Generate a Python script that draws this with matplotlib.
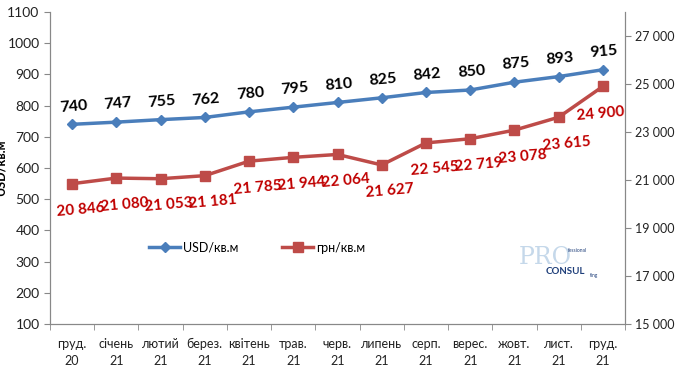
import matplotlib
matplotlib.use("Agg")
import matplotlib.pyplot as plt
import numpy as np

months = ["груд.\n20", "січень\n21", "лютий\n21", "берез.\n21", "квітень\n21", "трав.\n21",
          "черв.\n21", "липень\n21", "серп.\n21", "верес.\n21", "жовт.\n21", "лист.\n21", "груд.\n21"]
usd = [740, 747, 755, 762, 780, 795, 810, 825, 842, 850, 875, 893, 915]
uah = [20846, 21080, 21053, 21181, 21785, 21944, 22064, 21627, 22545, 22719, 23078, 23615, 24900]

plt.rcParams['font.family'] = ['Lato', 'DejaVu Sans']

fig = plt.figure(figsize=(6.86, 3.86), dpi=100)
ax = fig.add_axes([50/686, 1-324/386, 575/686, 312/386])
ax2 = ax.twinx()

x = np.arange(len(months))
blue = "#4A7EBB"
red = "#BE4B48"
l1, = ax.plot(x, usd, color=blue, lw=2.5, marker="D", ms=5, label="USD/кв.м")
l2, = ax2.plot(x, uah, color=red, lw=2.5, marker="s", ms=7.5, label="грн/кв.м")

ax.set_xlim(-0.5, len(months) - 0.5)
ax.set_ylim(100, 1100)
ax.set_yticks(np.arange(100, 1101, 100))
ax2.set_ylim(15000, 28000)
ax2.set_yticks(np.arange(15000, 27001, 2000))
ax2.set_yticklabels([f"{v:,}".replace(",", " ") for v in range(15000, 27001, 2000)])

ax.set_xticks(x)
ax.set_xticklabels(months, fontsize=9, color="#222222", linespacing=1.5)
ax.set_xticks(np.arange(-0.5, len(months), 1), minor=True)
ax.tick_params(axis="x", which="major", length=0, pad=10)
ax.tick_params(axis="x", which="minor", length=4, color="#888888")
ax.tick_params(axis="y", labelsize=10, color="#888888", length=4, labelcolor="#222222")
ax2.tick_params(axis="y", labelsize=9, color="#888888", length=4, labelcolor="#222222")

for a in (ax, ax2):
    a.spines["top"].set_visible(False)
    for s in ("left", "right", "bottom"):
        a.spines[s].set_color("#888888")

for xi, v in zip(x, usd):
    ax.annotate(str(v), (xi, v), xytext=(1, 7), textcoords="offset points",
                ha="center", va="bottom", fontsize=11.5, fontweight="bold", rotation=5, color="black")

for i, (xi, v) in enumerate(zip(x, uah)):
    lab = f"{v:,}".replace(",", " ")
    dx, dy = 6, -19
    if i == len(uah) - 1:
        dx, dy = -2, -20
    ax2.annotate(lab, (xi, v), xytext=(dx, dy), textcoords="offset points",
                 ha="center", va="center", fontsize=11, fontweight="bold", rotation=5, color="#C00000")

ax.set_ylabel("USD/кв.м", fontsize=9, fontweight="bold")
ax.yaxis.set_label_coords(-0.075, 0.5)
ax2.set_ylabel("грн/кв.м", fontsize=9, fontweight="bold", color="#C00000")
ax2.yaxis.set_label_coords(1.11, 0.55)

ax.legend(handles=[l1, l2], loc="center", bbox_to_anchor=(0.36, 0.245), ncol=2,
          frameon=False, fontsize=9, columnspacing=3.5, handlelength=2.5, handletextpad=0.2)

fig.text(519/686, 1-257/386, "PRO", fontsize=17, color="#C5D8EA", family="DejaVu Serif", ha="left", va="center")
fig.text(568/686, 1-251/386, "fessional", fontsize=3.5, color="#1F3F7A", ha="left", va="center")
fig.text(546/686, 1-272/386, "CONSUL", fontsize=7, color="#1F3F7A", fontweight="bold", ha="left", va="center")
fig.text(590/686, 1-275/386, "ting", fontsize=3.5, color="#1F3F7A", ha="left", va="center")

fig.savefig("out.png", dpi=100)
